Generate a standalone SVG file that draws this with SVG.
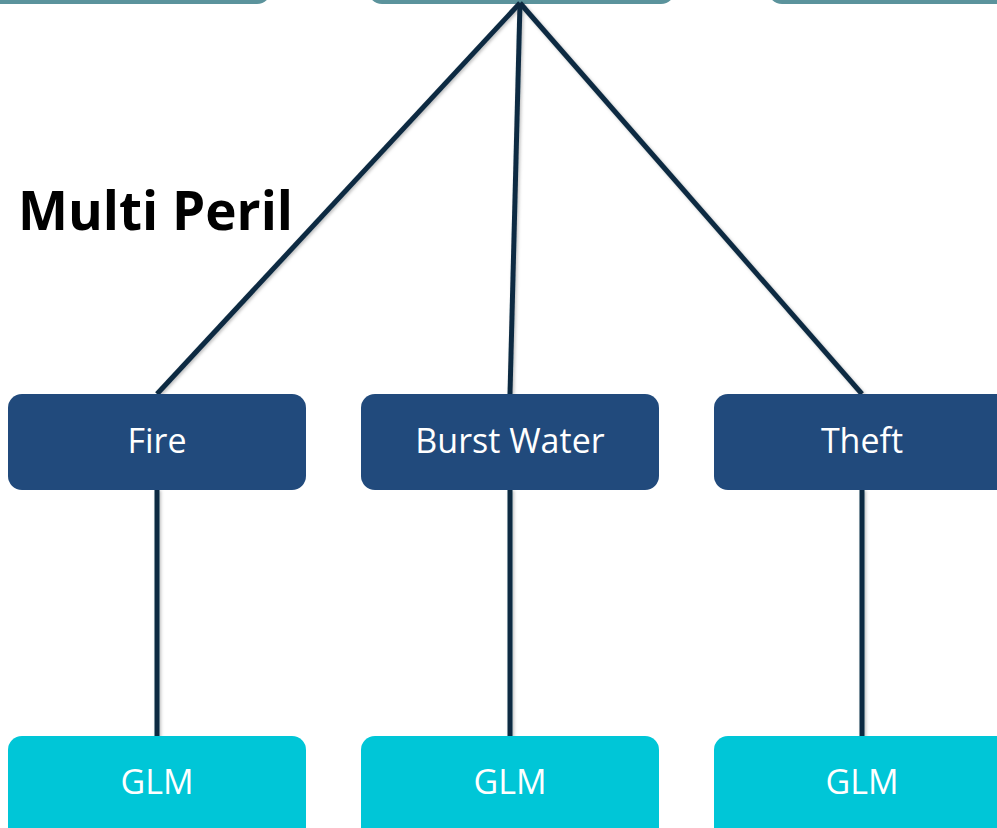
<svg xmlns="http://www.w3.org/2000/svg" width="997" height="828" viewBox="0 0 997 828">
<style>
.top{fill:#5b939c;}
.peril{fill:#214a7c;}
.glm{fill:#00c6d7;}
.lbl{font-family:"Open Sans","Liberation Sans",sans-serif;font-size:34px;fill:#ffffff;text-anchor:middle;}
.conn{stroke:#0d2b42;stroke-width:5;fill:none;stroke-linecap:butt;}
</style>
<defs>
<filter id="sh" x="-20%" y="-20%" width="140%" height="140%">
<feDropShadow dx="1.5" dy="1.5" stdDeviation="1.5" flood-color="#000" flood-opacity="0.25"/>
</filter>
</defs>
<rect width="997" height="828" fill="#ffffff"/>
<g id="top-left"><rect class="top" x="-20" y="-60" width="291" height="64" rx="14"/></g>
<g id="top-mid"><rect class="top" x="368" y="-60" width="307" height="64" rx="14"/></g>
<g id="top-right"><rect class="top" x="768" y="-60" width="260" height="64" rx="14"/></g>
<g id="connectors" filter="url(#sh)">
<line class="conn" x1="520" y1="3" x2="157" y2="394"/>
<line class="conn" x1="520" y1="3" x2="510" y2="394"/>
<line class="conn" x1="520" y1="3" x2="862" y2="394"/>
<line class="conn" x1="157" y1="489" x2="157" y2="737"/>
<line class="conn" x1="510" y1="489" x2="510" y2="737"/>
<line class="conn" x1="862" y1="489" x2="862" y2="737"/>
</g>
<g id="fire"><rect class="peril" x="8" y="394" width="298" height="96" rx="14"/><text class="lbl" x="157" y="453">Fire</text></g>
<g id="burst-water"><rect class="peril" x="361" y="394" width="298" height="96" rx="14"/><text class="lbl" x="510" y="453">Burst Water</text></g>
<g id="theft"><rect class="peril" x="714" y="394" width="300" height="96" rx="14"/><text class="lbl" x="862" y="453">Theft</text></g>
<g id="glm-1"><rect class="glm" x="8" y="736" width="298" height="110" rx="14"/><text class="lbl" x="157" y="794">GLM</text></g>
<g id="glm-2"><rect class="glm" x="361" y="736" width="298" height="110" rx="14"/><text class="lbl" x="510" y="794">GLM</text></g>
<g id="glm-3"><rect class="glm" x="714" y="736" width="300" height="110" rx="14"/><text class="lbl" x="862" y="794">GLM</text></g>
<g id="title"><text x="18" y="230" font-family="'Open Sans','Liberation Sans',sans-serif" font-weight="bold" font-size="54" textLength="275" lengthAdjust="spacingAndGlyphs" fill="#000000">Multi Peril</text></g>
</svg>
